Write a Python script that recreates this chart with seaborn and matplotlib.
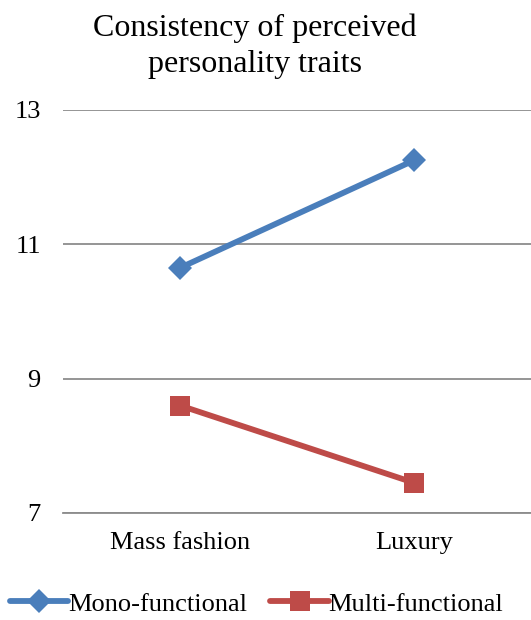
import pandas as pd
import seaborn as sns
import matplotlib.pyplot as plt

categories = ['Mass fashion', 'Luxury']
mono = [10.65, 12.25]
multi = [8.6, 7.45]
series = ['Mono-functional', 'Multi-functional']

df = pd.DataFrame({
    'cat': categories * 2,
    'valor': mono + multi,
    'grupo': [series[0]] * 2 + [series[1]] * 2,
})

sns.set_style('white')
plt.rcParams['font.family'] = ['Liberation Serif', 'DejaVu Serif']
plt.rcParams['text.color'] = 'black'

fig = plt.figure(figsize=(5.31, 6.20), dpi=100)
ax = fig.add_axes([0.1186, 0.1726, 0.8814, 0.65])

sns.lineplot(data=df, x='cat', y='valor', hue='grupo', style='grupo',
             palette=['#4A7EBB', '#BE4B48'], markers=['D', 's'], dashes=False,
             linewidth=4.2, markersize=12, markeredgewidth=0, ax=ax, legend=False)
# quadrado um pouco maior
ax.lines[1].set_markersize(14)

ax.set_xlim(-0.5, 1.5)
ax.set_ylim(7, 13)
ax.set_yticks([7, 9, 11, 13])
ax.yaxis.grid(True, color='#8C8C8C', linewidth=1.3)
ax.set_axisbelow(True)
for s in ['top', 'right', 'left']:
    ax.spines[s].set_visible(False)
ax.spines['bottom'].set_color('#8C8C8C')
ax.spines['bottom'].set_linewidth(1.3)
ax.tick_params(axis='both', length=0, labelsize=19, colors='black')
ax.tick_params(axis='y', pad=16)
ax.tick_params(axis='x', pad=14)
ax.set_xlabel('')
ax.set_ylabel('')

fig.text(0.48, 0.978, 'Consistency of perceived\npersonality traits', ha='center',
         va='top', fontsize=23, linespacing=1.3, color='black')

handles = [plt.Line2D([], [], color='#4A7EBB', marker='D', lw=4.2, markersize=12, markeredgewidth=0),
           plt.Line2D([], [], color='#BE4B48', marker='s', lw=4.2, markersize=14, markeredgewidth=0)]
leg = fig.legend(handles, series, loc='center', bbox_to_anchor=(0.483, 0.026), ncol=2,
                 frameon=False, fontsize=19, handlelength=2.2, handletextpad=0.0,
                 columnspacing=0.9, borderpad=0.1)
for t in leg.get_texts():
    t.set_color('black')

fig.savefig('out.png', dpi=100)
